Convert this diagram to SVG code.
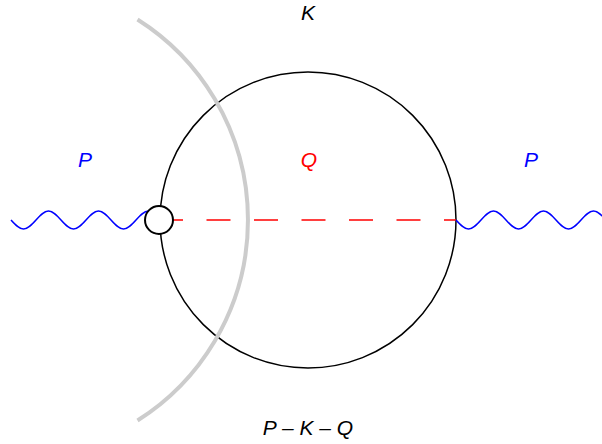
<svg xmlns="http://www.w3.org/2000/svg" width="602" height="444" viewBox="0 0 602 444">
<style>
.lbl{font-family:"Liberation Sans",Arial,sans-serif;font-style:italic;font-size:21px;text-anchor:middle}
.wave{fill:none;stroke:#0000ff;stroke-width:1.5}
</style>
<rect width="602" height="444" fill="#fff"/>
<g id="loop">
<circle cx="308" cy="220" r="148" fill="none" stroke="#000" stroke-width="1.5"/>
</g>
<g id="connectors">
<line x1="159" y1="220" x2="456" y2="220" stroke="#ff0000" stroke-width="1.5" stroke-dasharray="24 23.5"/>
<path class="wave" d="M11 220 c4.077,4.61 7.976,9 12.5,9 c4.524,0 8.423,-4.39 12.5,-9 c4.077,-4.61 7.976,-9 12.5,-9 c4.524,0 8.423,4.39 12.5,9 c4.077,4.61 7.976,9 12.5,9 c4.524,0 8.423,-4.39 12.5,-9 c4.077,-4.61 7.976,-9 12.5,-9 c4.524,0 8.423,4.39 12.5,9 c4.077,4.61 7.976,9 12.5,9 c4.524,0 8.423,-4.39 12.5,-9 c4.077,-4.61 7.976,-9 12.5,-9"/>
<path class="wave" d="M456 220 c4.077,4.61 7.976,9 12.5,9 c4.524,0 8.423,-4.39 12.5,-9 c4.077,-4.61 7.976,-9 12.5,-9 c4.524,0 8.423,4.39 12.5,9 c4.077,4.61 7.976,9 12.5,9 c4.524,0 8.423,-4.39 12.5,-9 c4.077,-4.61 7.976,-9 12.5,-9 c4.524,0 8.423,4.39 12.5,9 c4.077,4.61 7.976,9 12.5,9 c4.524,0 8.423,-4.39 12.5,-9 c4.077,-4.61 7.976,-9 12.5,-9 c4.524,0 8.423,4.39 12.5,9"/>
</g>
<g id="cut">
<path d="M137.5 19.5 A237.2 237.2 0 0 1 137.5 420.5" fill="none" stroke="#cccccc" stroke-width="4"/>
</g>
<g id="vertex">
<circle cx="159" cy="220" r="14" fill="#fff" stroke="#000" stroke-width="2"/>
</g>
<g id="labels">
<text class="lbl" x="308" y="20" fill="#000">K</text>
<text class="lbl" x="85" y="167" fill="#0000ff">P</text>
<text class="lbl" x="309" y="167" fill="#ff0000">Q</text>
<text class="lbl" x="531" y="167" fill="#0000ff">P</text>
<text class="lbl" x="308" y="435" fill="#000">P – K – Q</text>
</g>
</svg>
